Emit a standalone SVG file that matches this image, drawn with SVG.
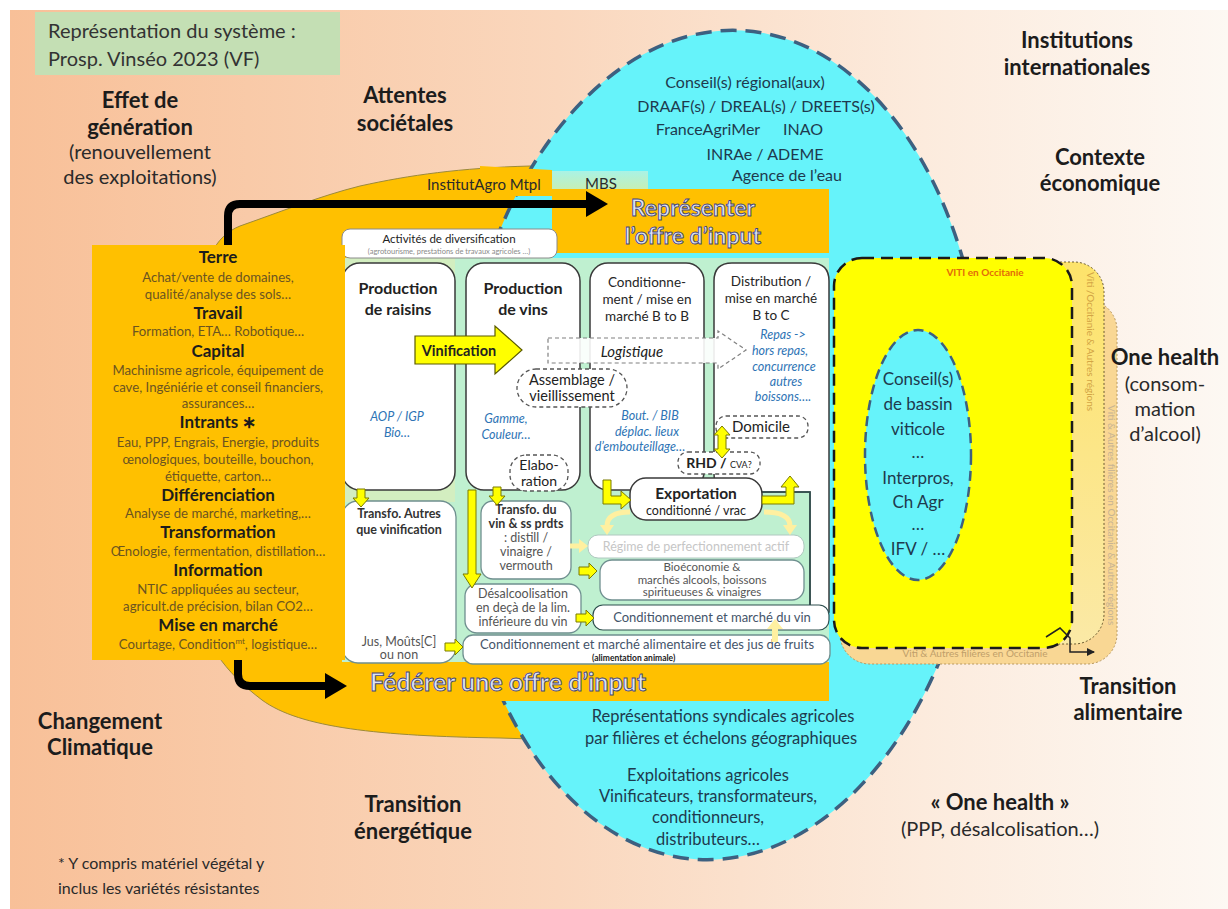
<svg xmlns="http://www.w3.org/2000/svg" width="1228" height="909" viewBox="0 0 1228 909">
<defs>
  <linearGradient id="bg" x1="0" y1="0" x2="1" y2="0">
    <stop offset="0" stop-color="#f8c098"/>
    <stop offset="0.45" stop-color="#fad7bd"/>
    <stop offset="0.75" stop-color="#fcebdd"/>
    <stop offset="1" stop-color="#fdf8f3"/>
  </linearGradient>
  <linearGradient id="midY" x1="0" y1="0" x2="0" y2="1">
    <stop offset="0" stop-color="#fde36a"/>
    <stop offset="1" stop-color="#fbe9a6"/>
  </linearGradient>
  <linearGradient id="mbs" x1="0" y1="0" x2="0" y2="1">
    <stop offset="0" stop-color="#a9f3e6"/>
    <stop offset="1" stop-color="#c9eeb0"/>
  </linearGradient>
  <marker id="blk" markerUnits="userSpaceOnUse" markerWidth="22" markerHeight="26" refX="2" refY="13" orient="auto">
    <path d="M0,0 L22,13 L0,26 Z" fill="#000"/>
  </marker>
  <marker id="sm" markerUnits="userSpaceOnUse" markerWidth="8" markerHeight="8" refX="7" refY="4" orient="auto">
    <path d="M0,0 L8,4 L0,8 Z" fill="#222"/>
  </marker>
  <path id="ydown" d="M-4,0 H4 V9 H8 L0,18 L-8,9 H-4 Z"/>
  <path id="yright" d="M0,-4 H10 V-8 L18,0 L10,8 V4 H0 Z"/>
</defs>
<style>
text{font-family:Lato,"Open Sans","Liberation Sans",sans-serif}
.lb{font-size:22px;font-weight:bold;fill:#1c1c1c;text-anchor:middle}
.ln{font-size:20px;fill:#2a2a2a;text-anchor:middle}
.cy{font-size:16.5px;fill:#1e3a4e;text-anchor:middle}
.ct{font-size:16px;fill:#1e3a4e;text-anchor:middle}
.hd{font-size:17px;font-weight:bold;fill:#1c1c1c;text-anchor:middle}
.bd{font-size:13.2px;fill:#6b5420;text-anchor:middle}
.ch{font-size:16px;font-weight:bold;fill:#222;text-anchor:middle}
.cs{font-size:13.5px;fill:#262626;text-anchor:middle}
.bl{font-size:12.5px;font-style:italic;fill:#2e74b5;text-anchor:middle}
.sm{font-size:12.5px;fill:#555;text-anchor:middle}
.box{fill:#fff;stroke:#3a3a3a;stroke-width:1.5}
.lbox{fill:#fff;stroke:#6f8f8f;stroke-width:1.3}
.dash{fill:#fff;stroke:#555;stroke-width:1.3;stroke-dasharray:4 3}
.ya{fill:#ffff00;stroke:#7a7a00;stroke-width:1}
.pale{fill:none;stroke:#fff0a0;stroke-width:5}
.palef{fill:#fff0a0}
.wa{font-size:23px;font-weight:bold;fill:#dde4f5;stroke:#45457a;stroke-width:0.9;text-anchor:middle}
.cdash{stroke:#3d6080;stroke-width:3.5;stroke-dasharray:16 9}
</style>

<rect x="0" y="0" width="1228" height="909" fill="#fff"/>
<rect x="10" y="10" width="1218" height="899" fill="url(#bg)"/>

<g id="title">
  <rect x="35" y="12" width="305" height="63" fill="#c4dfb4"/>
  <text x="48" y="38" style="font-size:20px;fill:#333">Représentation du système :</text>
  <text x="48" y="66" style="font-size:20px;fill:#333">Prosp. Vinséo 2023 (VF)</text>
</g>

<g id="context-labels">
  <text class="lb" x="140" y="108">Effet de</text>
  <text class="lb" x="140" y="135">génération</text>
  <text class="ln" x="140" y="159">(renouvellement</text>
  <text class="ln" x="140" y="184">des exploitations)</text>
  <text class="lb" x="405" y="103">Attentes</text>
  <text class="lb" x="405" y="131">sociétales</text>
  <text class="lb" x="1077" y="48">Institutions</text>
  <text class="lb" x="1077" y="75">internationales</text>
  <text class="lb" x="1100" y="165">Contexte</text>
  <text class="lb" x="1100" y="191">économique</text>
  <text class="lb" x="1128" y="694">Transition</text>
  <text class="lb" x="1128" y="720">alimentaire</text>
  <text class="lb" x="1000" y="810">« One health »</text>
  <text class="ln" x="1000" y="836">(PPP, désalcolisation…)</text>
  <text class="lb" x="100" y="729">Changement</text>
  <text class="lb" x="100" y="755">Climatique</text>
  <text class="lb" x="413" y="812">Transition</text>
  <text class="lb" x="413" y="839">énergétique</text>
  <text x="58" y="869" style="font-size:16px;fill:#2a2a2a">* Y compris matériel végétal y</text>
  <text x="58" y="894" style="font-size:16px;fill:#2a2a2a">inclus les variétés résistantes</text>
</g>

<g id="orange-domain">
  <path d="M200,320 C200,262 215,236 240,226 C280,212 320,196 360,186 C410,175 460,168 530,166 L560,166 L560,740 L500,738 C380,736 300,728 262,700 C225,672 200,640 200,600 Z" fill="#ffc000" stroke="#9c8a3a" stroke-width="1"/>
</g>

<g id="institutions">
  <ellipse cx="720" cy="445" rx="265" ry="415" transform="rotate(3 720 445)" fill="#66f3fa" class="cdash"/>
</g>

<g id="viti-occitanie">
  <rect x="840" y="300" width="277" height="364" rx="30" fill="#f9d794" stroke="#b89860" stroke-width="1" stroke-dasharray="2 2"/>
  <text x="975" y="657" style="font-size:10px;fill:#c09f6a;text-anchor:middle">Viti &amp; Autres filières en Occitanie</text>
  <text transform="translate(1108,405) rotate(90)" style="font-size:10px;fill:#c8b493">Viti &amp; Autres filières en Occitanie &amp; Autres régions</text>
  <rect x="838" y="262" width="266" height="382" rx="30" fill="url(#midY)" stroke="#6a5a30" stroke-width="1" stroke-dasharray="2 2"/>
  <text transform="translate(1087,272) rotate(90)" style="font-size:10px;fill:#d3a545">Viti /Occitanie &amp; Autres régions</text>
  <rect x="834" y="258" width="238" height="390" rx="28" fill="#ffff00" stroke="#1a1a1a" stroke-width="2.5" stroke-dasharray="12 7"/>
  <text x="985" y="276" style="font-size:10px;font-weight:bold;fill:#e36c09;text-anchor:middle">VITI en Occitanie</text>
  <path d="M1046,637 L1060,628 L1070,638 V652 H1094" fill="none" stroke="#222" stroke-width="1.5" marker-end="url(#sm)"/>
</g>

<g id="bassin">
  <ellipse cx="918" cy="455" rx="53" ry="125" fill="#66f3fa" stroke="#3d6080" stroke-width="2.5" stroke-dasharray="10 6"/>
  <text class="cy" x="918" y="385" style="font-size:17px">Conseil(s)</text>
  <text class="cy" x="918" y="410" style="font-size:17px">de bassin</text>
  <text class="cy" x="918" y="435" style="font-size:17px">viticole</text>
  <text class="cy" x="918" y="458" style="font-size:17px">…</text>
  <text class="cy" x="918" y="484" style="font-size:17px">Interpros,</text>
  <text class="cy" x="918" y="508" style="font-size:17px">Ch Agr</text>
  <text class="cy" x="918" y="530" style="font-size:17px">…</text>
  <text class="cy" x="918" y="555" style="font-size:17px">IFV / …</text>
</g>

<g id="representer">
  <path d="M480,166 L552,170 L552,196 L480,196 Z" fill="#ffc000"/>
  <text x="427" y="190" style="font-size:15px;fill:#2a2a2a">InstitutAgro Mtpl</text>
  <rect x="552" y="171" width="96" height="20" fill="url(#mbs)"/>
  <text x="601" y="189" style="font-size:15px;fill:#2a2a2a;text-anchor:middle">MBS</text>
  <rect x="552" y="189" width="277" height="64" fill="#ffc000"/>
  <text class="wa" x="693" y="216">Représenter</text>
  <text class="wa" x="693" y="244">l’offre d’input</text>
</g>

<g id="federer">
  <rect x="440" y="660" width="389" height="41" fill="#ffc000"/>
  <text class="wa" x="508" y="691" style="font-size:25px">Fédérer une offre d’input</text>
</g>

<g id="chain-panel">
  <rect x="342" y="258" width="487" height="404" fill="#bff0d0"/>
  <rect x="342" y="258" width="113" height="244" fill="#d3eec0"/>
</g>

<g id="diversification">
  <rect class="box" x="342" y="229" width="215" height="29" rx="8" style="stroke:#8a8a8a;stroke-width:1"/>
  <text x="449" y="243" style="font-size:11.5px;fill:#222;text-anchor:middle">Activités de diversification</text>
  <text x="449" y="254" style="font-size:7.5px;fill:#8a8a8a;text-anchor:middle">(agrotourisme, prestations de travaux agricoles …)</text>
</g>

<g id="prod-raisins">
  <rect class="box" x="342" y="263" width="113" height="227" rx="18"/>
  <text class="ch" x="398" y="294">Production</text>
  <text class="ch" x="398" y="315">de raisins</text>
  <text class="bl" x="397" y="421">AOP / IGP</text>
  <text class="bl" x="397" y="437">Bio…</text>
</g>

<g id="prod-vins">
  <rect class="box" x="466" y="263" width="114" height="227" rx="18"/>
  <text class="ch" x="523" y="294">Production</text>
  <text class="ch" x="523" y="315">de vins</text>
  <text class="bl" x="506" y="423">Gamme,</text>
  <text class="bl" x="506" y="439">Couleur…</text>
</g>

<g id="conditionnement-btob">
  <rect class="box" x="590" y="263" width="114" height="227" rx="18"/>
  <text class="cs" x="647" y="287">Conditionne-</text>
  <text class="cs" x="647" y="304">ment / mise en</text>
  <text class="cs" x="647" y="321">marché B to B</text>
  <text class="bl" x="650" y="420">Bout. / BIB</text>
  <text class="bl" x="647" y="436">déplac. lieux</text>
  <text class="bl" x="640" y="451">d’embouteillage…</text>
</g>

<g id="distribution-btoc">
  <path class="box" d="M732,263 H811 Q829,263 829,281 V612 H810 V492 H732 Q714,492 714,474 V281 Q714,263 732,263 Z"/>
  <text class="cs" x="771" y="286">Distribution /</text>
  <text class="cs" x="771" y="303">mise en marché</text>
  <text class="cs" x="771" y="320">B to C</text>
  <text class="bl" x="783" y="339">Repas -&gt;</text>
  <text class="bl" x="780" y="355">hors repas,</text>
  <text class="bl" x="784" y="371">concurrence</text>
  <text class="bl" x="786" y="386">autres</text>
  <text class="bl" x="783" y="401">boissons….</text>
</g>

<g id="vinification">
  <path d="M415,336 H495 V326 L522,350 L495,374 V364 H415 Z" fill="#ffff00" stroke="#5a5a00" stroke-width="1.2"/>
  <text x="459" y="356" style="font-size:14.5px;font-weight:bold;fill:#222;text-anchor:middle">Vinification</text>
</g>

<g id="logistique">
  <path d="M548,338 H718 V331 L746,350 L718,369 V363 H548 Z" fill="#ffffff" fill-opacity="0.9" stroke="#808080" stroke-width="1.2" stroke-dasharray="4 3"/>
  <text x="632" y="357" style="font-size:15px;font-style:italic;fill:#222;text-anchor:middle">Logistique</text>
</g>

<g id="assemblage">
  <rect class="dash" x="517" y="369" width="110" height="38" rx="19"/>
  <text x="572" y="385" style="font-size:14.5px;fill:#222;text-anchor:middle">Assemblage /</text>
  <text x="572" y="401" style="font-size:14.5px;fill:#222;text-anchor:middle">vieillissement</text>
</g>

<g id="elaboration">
  <rect class="dash" x="510" y="455" width="58" height="36" rx="16"/>
  <text x="539" y="470" style="font-size:14px;fill:#222;text-anchor:middle">Elabo-</text>
  <text x="539" y="486" style="font-size:14px;fill:#222;text-anchor:middle">ration</text>
</g>

<g id="domicile">
  <rect class="dash" x="716" y="416" width="92" height="22" rx="10"/>
  <text x="761" y="432" style="font-size:15px;fill:#222;text-anchor:middle">Domicile</text>
</g>

<g id="rhd">
  <rect class="dash" x="678" y="452" width="82" height="22" rx="10"/>
  <text x="719" y="468" style="font-size:14px;font-weight:bold;fill:#222;text-anchor:middle">RHD / <tspan style="font-size:9px;font-weight:normal">CVA?</tspan></text>
</g>

<g id="transfo-autres">
  <rect class="lbox" x="342" y="501" width="114" height="162" rx="16"/>
  <text x="399" y="518" style="font-size:12.5px;font-weight:bold;fill:#333;text-anchor:middle">Transfo. Autres</text>
  <text x="399" y="534" style="font-size:12.5px;font-weight:bold;fill:#333;text-anchor:middle">que vinification</text>
  <text class="sm" x="399" y="646">Jus, Moûts[C]</text>
  <text class="sm" x="399" y="659">ou non</text>
</g>

<g id="transfo-vin">
  <rect class="lbox" x="481" y="501" width="90" height="78" rx="12"/>
  <text x="526" y="514" style="font-size:12.5px;font-weight:bold;fill:#333;text-anchor:middle">Transfo. du</text>
  <text x="526" y="528" style="font-size:12.5px;font-weight:bold;fill:#333;text-anchor:middle">vin &amp; ss prdts</text>
  <text class="sm" x="526" y="542">: distill /</text>
  <text class="sm" x="526" y="556">vinaigre /</text>
  <text class="sm" x="526" y="570">vermouth</text>
</g>

<g id="desalcoolisation">
  <rect class="lbox" x="465" y="584" width="116" height="49" rx="12"/>
  <text class="sm" x="523" y="598">Désalcoolisation</text>
  <text class="sm" x="523" y="612">en deçà de la lim.</text>
  <text class="sm" x="523" y="626">inférieure du vin</text>
</g>

<g id="exportation">
  <polyline points="762,492 810,492 810,605" fill="none" stroke="#2f4f4f" stroke-width="1.5"/>
  <rect class="box" x="630" y="478" width="132" height="42" rx="16"/>
  <text x="696" y="499" style="font-size:15.5px;font-weight:bold;fill:#222;text-anchor:middle">Exportation</text>
  <text x="696" y="515" style="font-size:12.5px;fill:#222;text-anchor:middle">conditionné / vrac</text>
</g>

<g id="regime">
  <rect x="588" y="535" width="216" height="23" rx="10" fill="#fff" stroke="#b0c8c0" stroke-width="1"/>
  <text x="696" y="551" style="font-size:12.5px;fill:#c6c6c6;text-anchor:middle">Régime de perfectionnement actif</text>
</g>

<g id="bioeconomie">
  <rect class="lbox" x="600" y="560" width="204" height="40" rx="12"/>
  <text class="sm" x="702" y="571" style="font-size:11.5px">Bioéconomie &amp;</text>
  <text class="sm" x="702" y="583.5" style="font-size:11.5px">marchés alcools, boissons</text>
  <text class="sm" x="702" y="596" style="font-size:11.5px">spiritueuses &amp; vinaigres</text>
</g>

<g id="marche-vin">
  <rect class="box" x="593" y="605" width="236" height="25" rx="10" style="stroke:#2f4f4f;stroke-width:1.2"/>
  <text x="712" y="622" style="font-size:13px;fill:#44546a;text-anchor:middle">Conditionnement et marché du vin</text>
</g>

<g id="marche-alimentaire">
  <rect class="lbox" x="463" y="635" width="367" height="29" rx="10"/>
  <text x="647" y="649" style="font-size:13px;fill:#44546a;text-anchor:middle">Conditionnement et marché alimentaire et des jus de fruits</text>
  <text x="592" y="661" style="font-size:8.5px;font-weight:bold;fill:#222">(alimentation animale)</text>
</g>

<g id="connectors">
  <path d="M228,246 V216 Q228,204 240,204 H588" fill="none" stroke="#000" stroke-width="8" marker-end="url(#blk)"/>
  <path d="M238,660 V674 Q238,686 250,686 H327" fill="none" stroke="#000" stroke-width="8" marker-end="url(#blk)"/>
  <use href="#ydown" class="ya" transform="translate(361,489)"/>
  <use href="#ydown" class="ya" transform="translate(497,487)"/>
  <path class="ya" d="M468,490 H476 V574 H481 L472,588 L463,574 H468 Z"/>
  <use href="#yright" class="ya" transform="translate(579,571)"/>
  <use href="#yright" class="ya" transform="translate(576,618)"/>
  <use href="#yright" class="ya" transform="translate(445,647)"/>
  <path class="ya" d="M603,480 H611 V496 H621 V491 L631,500 L621,509 V504 H603 Z"/>
  <path class="ya" d="M762,496 H786 V487 H781 L790,476 L799,487 H794 V504 H762 Z"/>
  <path class="ya" d="M722,426 L730,435 H726 V449 H730 L722,458 L714,449 H718 V435 H714 Z"/>
  <path class="pale" d="M630,512 Q607,512 607,526"/>
  <path class="palef" d="M600,525 H614 L607,535 Z"/>
  <path class="pale" d="M764,512 Q790,512 790,526"/>
  <path class="palef" d="M783,525 H797 L790,535 Z"/>
  <path class="pale" d="M570,546 H580"/>
  <path class="palef" d="M579,539 L588,546 L579,553 Z"/>
  <path class="palef" d="M772,642 V629 H767 L775,619 L783,629 H778 V642 Z"/>
</g>

<g id="inputs">
  <rect x="92" y="245" width="253" height="415" fill="#ffc000"/>
  <text class="hd" x="218" y="263">Terre</text>
  <text class="bd" x="218" y="282">Achat/vente de domaines,</text>
  <text class="bd" x="218" y="299">qualité/analyse des sols…</text>
  <text class="hd" x="218" y="319">Travail</text>
  <text class="bd" x="218" y="336">Formation, ETA… Robotique…</text>
  <text class="hd" x="218" y="357">Capital</text>
  <text class="bd" x="218" y="375">Machinisme agricole, équipement de</text>
  <text class="bd" x="218" y="392">cave, Ingéniérie et conseil  financiers,</text>
  <text class="bd" x="218" y="408">assurances…</text>
  <text class="hd" x="218" y="428">Intrants  ∗</text>
  <text class="bd" x="218" y="447">Eau, PPP, Engrais, Energie, produits</text>
  <text class="bd" x="218" y="464">œnologiques, bouteille, bouchon,</text>
  <text class="bd" x="218" y="481">étiquette, carton…</text>
  <text class="hd" x="218" y="501">Différenciation</text>
  <text class="bd" x="218" y="518">Analyse de marché, marketing,…</text>
  <text class="hd" x="218" y="538">Transformation</text>
  <text class="bd" x="218" y="556">Œnologie, fermentation, distillation…</text>
  <text class="hd" x="218" y="576">Information</text>
  <text class="bd" x="218" y="594">NTIC appliquées au secteur,</text>
  <text class="bd" x="218" y="611">agricult.de précision, bilan CO2…</text>
  <text class="hd" x="218" y="631">Mise en marché</text>
  <text class="bd" x="218" y="649">Courtage, Condition<tspan style="font-size:8px" dy="-5">mt</tspan><tspan dy="5">,  logistique…</tspan></text>
</g>

<g id="institution-labels">
  <text class="ct" x="745" y="88">Conseil(s) régional(aux)</text>
  <text class="ct" x="756" y="112">DRAAF(s) / DREAL(s) / DREETS(s)</text>
  <text class="ct" x="708" y="135">FranceAgriMer</text>
  <text class="ct" x="803" y="135">INAO</text>
  <text class="ct" x="765" y="160">INRAe / ADEME</text>
  <text class="ct" x="787" y="181">Agence de l’eau</text>
  <text class="cy" x="723" y="722">Représentations syndicales agricoles</text>
  <text class="cy" x="721" y="744">par filières et échelons géographiques</text>
  <text class="cy" x="708" y="781">Exploitations agricoles</text>
  <text class="cy" x="708" y="802">Vinificateurs, transformateurs,</text>
  <text class="cy" x="708" y="823">conditionneurs,</text>
  <text class="cy" x="708" y="845">distributeurs…</text>
</g>

<g id="one-health">
  <text class="lb" x="1165" y="365">One health</text>
  <text class="ln" x="1165" y="391">(consom-</text>
  <text class="ln" x="1165" y="416">mation</text>
  <text class="ln" x="1165" y="441">d’alcool)</text>
</g>
</svg>
